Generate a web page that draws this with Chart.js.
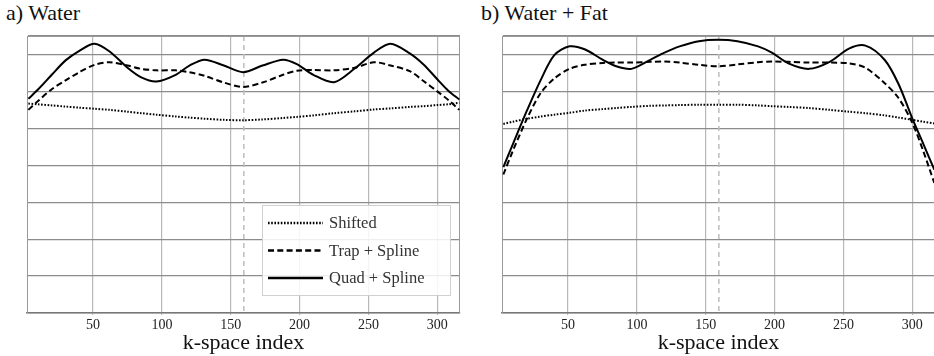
<!DOCTYPE html>
<html>
<head>
<meta charset="utf-8">
<script src="https://cdn.jsdelivr.net/npm/chart.js@4"></script>
<style>
body{margin:0;width:934px;height:356px;overflow:hidden;background:#fff;position:relative;font-family:"Liberation Serif","DejaVu Serif",serif;}
.panel{position:absolute;top:0;height:356px;}
#waterBox{left:0;width:467px;}
#fatBox{left:467px;width:470px;}
.title{position:absolute;top:0px;font-size:22px;line-height:25px;color:#111;white-space:nowrap;}
</style>
</head>
<body>
<div class="title" style="left:6px">a) Water</div>
<div class="title" style="left:481px">b) Water + Fat</div>
<div class="panel" id="waterBox"><canvas id="waterChart"></canvas></div>
<div class="panel" id="fatBox"><canvas id="fatChart"></canvas></div>
<script>
const serif = '"Liberation Serif", "DejaVu Serif", serif';

// k-space sample positions (shared by both panels)
const kIndex = [3, 10, 20, 30, 40, 51, 62, 75, 85, 96, 110, 120, 131, 145, 159, 173, 188, 198, 210, 225, 240, 254, 266, 280, 290, 300, 308, 316];
const xTicks = [50, 100, 150, 200, 250, 300];
const kCenter = 159.5;
const seriesLabels = ['Shifted', 'Trap + Spline', 'Quad + Spline'];

// a) Water
const waterShifted = [5.67, 5.65, 5.62, 5.59, 5.56, 5.53, 5.50, 5.45, 5.41, 5.37, 5.32, 5.29, 5.26, 5.23, 5.22, 5.24, 5.28, 5.31, 5.35, 5.41, 5.46, 5.51, 5.54, 5.58, 5.60, 5.63, 5.65, 5.69];
const waterTrap = [5.50, 5.74, 6.06, 6.30, 6.52, 6.72, 6.79, 6.70, 6.61, 6.57, 6.57, 6.52, 6.42, 6.24, 6.12, 6.24, 6.45, 6.56, 6.58, 6.57, 6.64, 6.79, 6.70, 6.55, 6.28, 6.00, 5.77, 5.50];
const waterQuad = [5.80, 6.05, 6.45, 6.84, 7.10, 7.29, 7.08, 6.64, 6.38, 6.27, 6.45, 6.70, 6.86, 6.70, 6.52, 6.70, 6.86, 6.74, 6.45, 6.25, 6.62, 7.05, 7.29, 7.03, 6.73, 6.33, 6.02, 5.78];

// b) Water + Fat
const fatShifted = [5.12, 5.18, 5.26, 5.32, 5.37, 5.42, 5.48, 5.52, 5.55, 5.58, 5.61, 5.62, 5.63, 5.64, 5.64, 5.64, 5.62, 5.60, 5.58, 5.55, 5.50, 5.45, 5.41, 5.35, 5.29, 5.23, 5.18, 5.13];
const fatTrap = [3.75, 4.40, 5.25, 5.95, 6.35, 6.61, 6.72, 6.77, 6.78, 6.78, 6.80, 6.81, 6.78, 6.72, 6.68, 6.73, 6.79, 6.81, 6.80, 6.78, 6.78, 6.76, 6.64, 6.22, 5.82, 5.15, 4.38, 3.52];
const fatQuad = [3.95, 4.58, 5.47, 6.30, 6.98, 7.22, 7.14, 6.86, 6.68, 6.61, 6.86, 7.05, 7.22, 7.36, 7.40, 7.36, 7.22, 7.05, 6.76, 6.61, 6.80, 7.16, 7.24, 6.85, 6.20, 5.27, 4.58, 3.88];

const lineStyles = [
  { borderDash: [1.6, 1.6] },
  { borderDash: [6, 3.3] },
  { borderDash: [] }
];

function toPoints(vals) {
  return kIndex.map((k, i) => ({ x: k, y: vals[i] }));
}

const frameAndCenter = {
  id: 'frameAndCenter',
  beforeDatasetsDraw(chart) {
    const { ctx, chartArea } = chart;
    const x = chart.scales.x.getPixelForValue(kCenter);
    ctx.save();
    ctx.strokeStyle = '#bdbdbd';
    ctx.lineWidth = 1.5;
    ctx.setLineDash([5, 4]);
    ctx.beginPath();
    ctx.moveTo(x, chartArea.top);
    ctx.lineTo(x, chartArea.bottom);
    ctx.stroke();
    ctx.setLineDash([]);
    ctx.strokeStyle = '#999';
    ctx.lineWidth = 1;
    ctx.beginPath();
    ctx.moveTo(chartArea.left, chartArea.top + 0.5);
    ctx.lineTo(chartArea.right, chartArea.top + 0.5);
    ctx.moveTo(chartArea.right - 0.5, chartArea.top);
    ctx.lineTo(chartArea.right - 0.5, chartArea.bottom);
    ctx.stroke();
    ctx.restore();
  }
};

const legendBox = {
  id: 'legendBox',
  afterDraw(chart, args, opts) {
    if (!opts.show) return;
    const { ctx, chartArea } = chart;
    const w = 188, h = 90;
    const x = chartArea.right - 10 - w, y = chartArea.bottom - 18 - h;
    ctx.save();
    ctx.fillStyle = 'rgba(255,255,255,0.85)';
    ctx.fillRect(x, y, w, h);
    ctx.strokeStyle = '#d0d0d0';
    ctx.lineWidth = 1;
    ctx.strokeRect(x + 0.5, y + 0.5, w, h);
    chart.data.datasets.forEach((ds, i) => {
      const ly = y + 18 + i * 27.5;
      ctx.setLineDash(ds.borderDash || []);
      ctx.strokeStyle = ds.borderColor;
      ctx.lineWidth = 2.4;
      ctx.beginPath();
      ctx.moveTo(x + 6, ly);
      ctx.lineTo(x + 61, ly);
      ctx.stroke();
      ctx.setLineDash([]);
      ctx.fillStyle = '#333';
      ctx.font = '16.5px ' + serif;
      ctx.textBaseline = 'middle';
      ctx.fillText(ds.label, x + 67, ly + 1);
    });
    ctx.restore();
  }
};

function makeChart(id, series, pad, showLegend) {
  const ctx = document.getElementById(id).getContext('2d');
  return new Chart(ctx, {
    type: 'line',
    data: {
      datasets: series.map((vals, i) => ({
        label: seriesLabels[i],
        data: toPoints(vals),
        borderColor: '#000',
        borderWidth: 2,
        borderDash: lineStyles[i].borderDash,
        pointRadius: 0,
        fill: false,
        tension: 0.3
      }))
    },
    options: {
      responsive: true,
      maintainAspectRatio: false,
      animation: false,
      layout: { padding: pad },
      plugins: {
        legend: { display: false },
        tooltip: { enabled: false },
        legendBox: { show: showLegend }
      },
      scales: {
        x: {
          type: 'linear',
          min: 2,
          max: 316.5,
          afterBuildTicks: s => { s.ticks = xTicks.map(v => ({ value: v })); },
          afterFit: s => { s.height = 43; },
          grid: { color: '#b8b8b8', lineWidth: 1.2, tickLength: 2 },
          border: { color: '#777', width: 1.5 },
          ticks: {
            color: '#222',
            padding: 2,
            maxRotation: 0,
            font: { family: serif, size: 14 }
          },
          title: {
            display: true,
            text: 'k-space index',
            color: '#111',
            padding: { top: 0, bottom: 0 },
            font: { family: serif, size: 22 }
          }
        },
        y: {
          min: 0,
          max: 7.5,
          afterFit: s => { s.width = 0; },
          ticks: { display: false, stepSize: 1 },
          grid: { color: '#8c8c8c', lineWidth: 1.2, drawTicks: false },
          border: { color: '#999', width: 1 }
        }
      }
    },
    plugins: [frameAndCenter, legendBox]
  });
}

makeChart('waterChart', [waterShifted, waterTrap, waterQuad], { left: 27, right: 7, top: 36, bottom: 0 }, true);
makeChart('fatChart', [fatShifted, fatTrap, fatQuad], { left: 35, right: 2, top: 36, bottom: 0 }, false);
</script>
</body>
</html>
